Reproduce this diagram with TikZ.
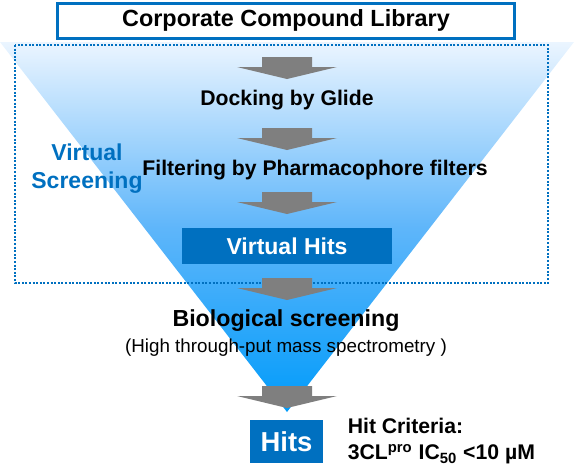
\documentclass[tikz,border=0pt]{standalone}
\usepackage{fontspec}
\setmainfont{Liberation Sans}
\usetikzlibrary{positioning}

\definecolor{boxblue}{RGB}{0,112,192}
\definecolor{arrowgray}{RGB}{127,127,127}
\definecolor{funneltop}{RGB}{235,245,255}
\definecolor{funnelmid}{RGB}{95,182,250}
\definecolor{funnelbot}{RGB}{0,155,250}

\begin{document}
\begin{tikzpicture}[x=0.5pt, y=-0.5pt,
    libbox/.style={draw=boxblue, line width=1.5pt, fill=white, minimum width=228.5pt, minimum height=17.5pt, inner sep=0pt, font=\bfseries\fontsize{11.7}{14}\selectfont},
    stepbox/.style={fill=boxblue, text=white, inner sep=0pt, font=\bfseries\fontsize{11.5}{14}\selectfont},
    steplabel/.style={inner sep=0pt, font=\bfseries\fontsize{10.6}{13}\selectfont},
    downarr/.pic={\fill[arrowgray] (-25,0) -- (25,0) -- (25,10) -- (50,10) -- (0,22) -- (-50,10) -- (-25,10) -- cycle;}
]
\useasboundingbox (0,0) rectangle (574,472);

% funnel and virtual screening frame
\shade[top color=funneltop, bottom color=funnelbot, middle color=funnelmid] (0,42) -- (574,42) -- (287,412) -- cycle;
\draw[boxblue, line width=1pt, dash pattern=on 1pt off 0.8pt] (15,45) rectangle (548,283);

\node[libbox] (lib) at (286,20.5) {Corporate Compound Library};

\pic at (287,57) {downarr};
\node[steplabel] (dock) at (287,100) {Docking by Glide};
\pic at (287,128) {downarr};
\node[steplabel] (filt) at (315,170) {Filtering by Pharmacophore filters};
\node[inner sep=0pt, align=center, text=boxblue, font=\bfseries\fontsize{11.5}{14}\selectfont] (vscreen) at (87,169) {Virtual\\Screening};
\pic at (287,192) {downarr};
\node[stepbox, minimum width=105pt, minimum height=18pt] (vhits) at (287,246) {Virtual Hits};
\pic at (287,278) {downarr};

\node[inner sep=0pt, font=\bfseries\fontsize{11.6}{14}\selectfont] (bio) at (286,321) {Biological screening};
\node[inner sep=0pt, font=\fontsize{9.4}{12}\selectfont] (hts) at (286,348) {(High through-put mass spectrometry )};
\pic at (287,386) {downarr};

\node[stepbox, minimum width=36.5pt, minimum height=21.5pt, font=\bfseries\fontsize{13.7}{16}\selectfont] (hits) at (286.5,441.5) {Hits};
\node[right=12pt of hits, inner sep=0pt, align=left, font=\bfseries\fontsize{10.6}{13}\selectfont] (crit) {Hit Criteria:\\3CL\textsuperscript{pro} IC\textsubscript{50} <10 µM};

\end{tikzpicture}
\end{document}
